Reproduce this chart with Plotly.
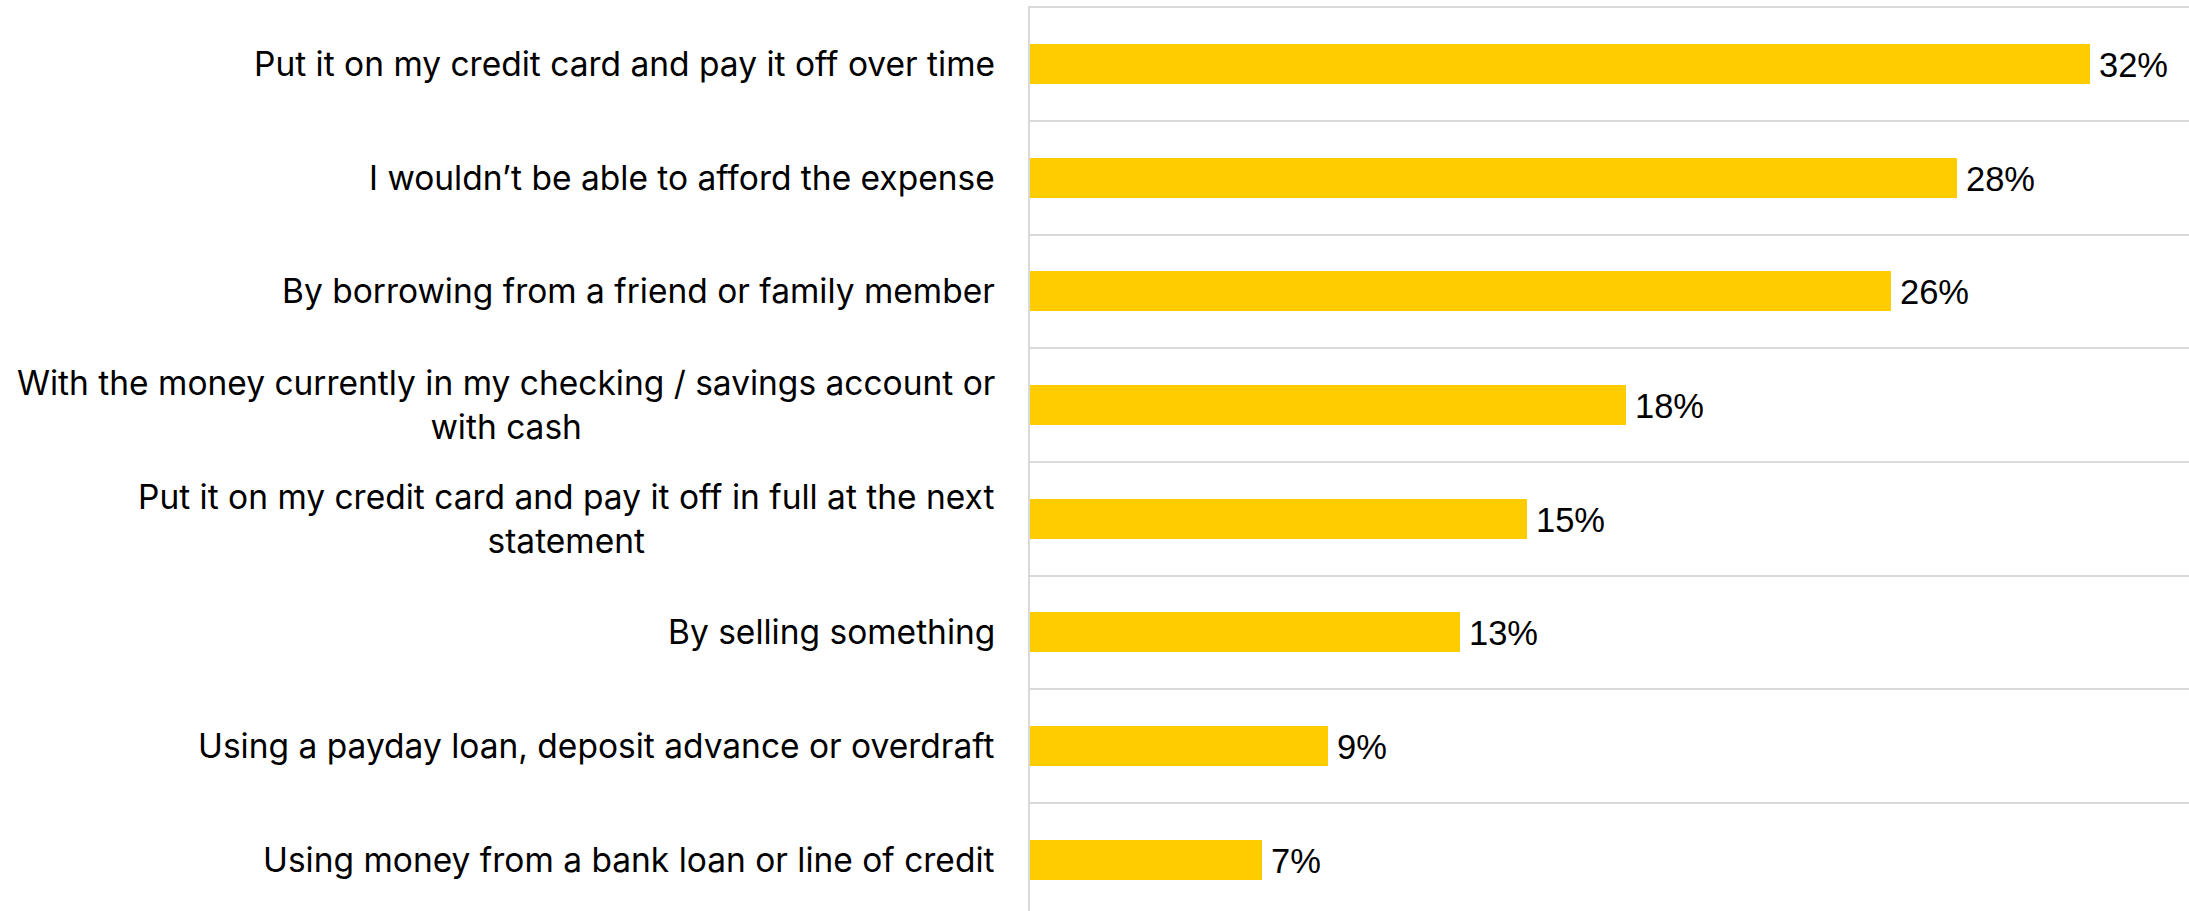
import plotly.graph_objects as go

# Survey responses: how an unexpected expense would be covered
categories = [
    "Put it on my credit card and pay it off over time",
    "I wouldn’t be able to afford the expense",
    "By borrowing from a friend or family member",
    "With the money currently in my checking / savings account or<br>with cash",
    "Put it on my credit card and pay it off in full at the next<br>statement",
    "By selling something",
    "Using a payday loan, deposit advance or overdraft",
    "Using money from a bank loan or line of credit",
]
shares = [32, 28, 26, 18, 15, 13, 9, 7]

BAR_COLOR = "#FFCC00"
GRID_COLOR = "#D9D9D9"
LABEL_FONT = dict(family="Inter, Liberation Sans, Arial, sans-serif", size=33.5, color="#000000")
VALUE_FONT = dict(family="Liberation Sans, Arial, sans-serif", size=34.5, color="#000000")

positions = list(range(len(categories)))

fig = go.Figure(
    go.Bar(
        x=shares,
        y=positions,
        orientation="h",
        width=0.352,
        marker=dict(color=BAR_COLOR, line=dict(width=0)),
        hoverinfo="skip",
    )
)

# Category labels, right-aligned against the axis with centred wrapped lines
for pos, label in zip(positions, categories):
    fig.add_annotation(
        x=0,
        xref="paper",
        y=pos,
        yref="y",
        text=label,
        xanchor="right",
        yanchor="middle",
        align="center",
        xshift=-33,
        showarrow=False,
        font=LABEL_FONT,
    )

# Percentage labels just past the end of each bar
for pos, val in zip(positions, shares):
    fig.add_annotation(
        x=val,
        xref="x",
        y=pos,
        yref="y",
        text=f"{val:.0f}%",
        xanchor="left",
        yanchor="middle",
        xshift=7,
        yshift=-1,
        showarrow=False,
        font=VALUE_FONT,
    )

fig.update_layout(
    width=2189,
    height=911,
    margin=dict(l=1030, r=0, t=6, b=0),
    paper_bgcolor="#FFFFFF",
    plot_bgcolor="#FFFFFF",
    showlegend=False,
    bargap=0,
)

fig.update_xaxes(
    range=[0, 35],
    showgrid=False,
    zeroline=False,
    showline=False,
    showticklabels=False,
    ticks="",
)

fig.update_yaxes(
    range=[7.45, -0.51],
    tickvals=[p - 0.5 for p in positions],
    showticklabels=False,
    ticks="",
    showgrid=True,
    gridcolor=GRID_COLOR,
    gridwidth=1.5,
    zeroline=False,
    showline=True,
    linecolor=GRID_COLOR,
    linewidth=2,
)

fig.write_html("out.html")
